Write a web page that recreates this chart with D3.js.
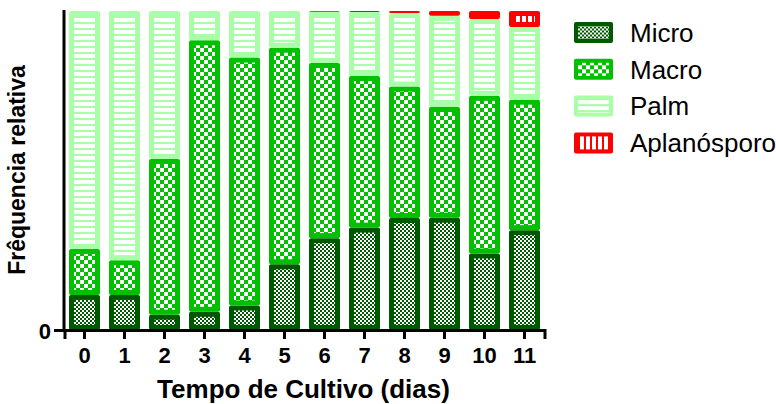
<!DOCTYPE html>
<html>
<head>
<meta charset="utf-8">
<script src="https://cdn.jsdelivr.net/npm/d3@7"></script>
<style>
  body { margin: 0; background: #fff; }
  text { font-family: Arial, "Liberation Sans", sans-serif; }
</style>
</head>
<body>
<div id="chart-area"></div>
<script>
// data (fraction of cells per day)
var days   = ["0", "1", "2", "3", "4", "5", "6", "7", "8", "9", "10", "11"];
var micro  = [0.110, 0.110, 0.048, 0.057, 0.077, 0.206, 0.288, 0.321, 0.351, 0.352, 0.240, 0.313];
var macro  = [0.144, 0.109, 0.488, 0.851, 0.777, 0.679, 0.549, 0.475, 0.412, 0.347, 0.494, 0.409];
var palm   = [0.746, 0.781, 0.464, 0.092, 0.146, 0.115, 0.161, 0.201, 0.231, 0.286, 0.241, 0.228];
var aplano = [0.000, 0.000, 0.000, 0.000, 0.000, 0.000, 0.002, 0.003, 0.006, 0.015, 0.025, 0.050];

var seriesNames = ["Micro", "Macro", "Palm", "Aplanósporo"];
var colors = { "Micro": "#005800", "Macro": "#00c000", "Palm": "#a8ffa8", "Aplanósporo": "#ff0000" };
var patIds = { "Micro": "pat-micro", "Macro": "pat-macro", "Palm": "pat-palm", "Aplanósporo": "pat-aplano" };

var W = 776, H = 404;

var svg = d3.select("#chart-area").append("svg")
  .attr("width", W)
  .attr("height", H);

// fill patterns
var defs = svg.append("defs");

var p = defs.append("pattern").attr("id", "pat-micro")
  .attr("patternUnits", "userSpaceOnUse").attr("width", 4).attr("height", 4);
p.append("rect").attr("width", 4).attr("height", 4).attr("fill", colors["Micro"]);
p.append("rect").attr("width", 2).attr("height", 2).attr("fill", "#fff");
p.append("rect").attr("x", 2).attr("y", 2).attr("width", 2).attr("height", 2).attr("fill", "#fff");

p = defs.append("pattern").attr("id", "pat-macro")
  .attr("patternUnits", "userSpaceOnUse").attr("width", 8).attr("height", 8);
p.append("rect").attr("width", 8).attr("height", 8).attr("fill", colors["Macro"]);
p.append("rect").attr("width", 4).attr("height", 4).attr("fill", "#fff");
p.append("rect").attr("x", 4).attr("y", 4).attr("width", 4).attr("height", 4).attr("fill", "#fff");

p = defs.append("pattern").attr("id", "pat-palm")
  .attr("patternUnits", "userSpaceOnUse").attr("width", 6).attr("height", 6);
p.append("rect").attr("width", 6).attr("height", 6).attr("fill", "#fff");
p.append("rect").attr("y", 4).attr("width", 6).attr("height", 2).attr("fill", colors["Palm"]);

p = defs.append("pattern").attr("id", "pat-aplano")
  .attr("patternUnits", "userSpaceOnUse").attr("width", 6).attr("height", 6);
p.append("rect").attr("width", 6).attr("height", 6).attr("fill", "#fff");
p.append("rect").attr("x", 4).attr("width", 2).attr("height", 6).attr("fill", colors["Aplanósporo"]);

// table for the stack
var table = days.map(function(d, i) {
  return { day: d, "Micro": micro[i], "Macro": macro[i], "Palm": palm[i], "Aplanósporo": aplano[i] };
});

var stacked = d3.stack().keys(seriesNames)(table);

// scales
var x = d3.scaleBand()
  .domain(days)
  .range([64.5, 544.5])
  .paddingInner(0.225)
  .paddingOuter(0.1125);

var y = d3.scaleLinear()
  .domain([0, 1])
  .range([330, 11]);

var bw = 5; // border width of each segment

// bars
var layers = svg.selectAll("g.layer")
  .data(stacked)
  .enter()
  .append("g")
  .attr("class", "layer");

layers.each(function(s) {
  var g = d3.select(this);
  var key = s.key;
  s.forEach(function(d) {
    var top = y(d[1]), bot = y(d[0]);
    var h = bot - top;
    if (h <= 0.2) return;
    g.append("rect")
      .attr("x", x(d.data.day))
      .attr("y", top)
      .attr("width", x.bandwidth())
      .attr("height", h)
      .attr("rx", 2)
      .attr("fill", colors[key]);
    if (h > 2 * bw) {
      g.append("rect")
        .attr("x", x(d.data.day) + bw)
        .attr("y", top + bw)
        .attr("width", x.bandwidth() - 2 * bw)
        .attr("height", h - 2 * bw)
        .attr("fill", "url(#" + patIds[key] + ")");
    }
  });
});

// X Axis
var xAxisCall = d3.axisBottom(x).tickSizeOuter(0).tickSize(9).tickPadding(8);
var xAxis = svg.append("g")
  .attr("class", "x axis")
  .attr("transform", "translate(0,330)")
  .call(xAxisCall);
xAxis.select(".domain").attr("stroke-width", 3).attr("stroke", "#000");
xAxis.selectAll(".tick line").attr("stroke-width", 3).attr("stroke", "#000");
xAxis.selectAll("text")
  .attr("font-size", "22px")
  .attr("font-weight", "bold")
  .attr("fill", "#000");

// Y Axis
var yAxisCall = d3.axisLeft(y)
  .tickValues([0])
  .tickFormat(d3.format("d"))
  .tickSizeOuter(0)
  .tickSize(10)
  .tickPadding(3);
var yAxis = svg.append("g")
  .attr("class", "y axis")
  .attr("transform", "translate(64,0)")
  .call(yAxisCall);
yAxis.select(".domain").attr("stroke-width", 3).attr("stroke", "#000")
  .attr("d", "M0,331.5V10");
yAxis.selectAll(".tick line").attr("stroke-width", 3).attr("stroke", "#000");
yAxis.selectAll("text")
  .attr("font-size", "22px")
  .attr("font-weight", "bold")
  .attr("fill", "#000")
  .attr("dy", "0.4em");

// X Label
svg.append("text")
  .attr("x", 303.5)
  .attr("y", 398)
  .attr("font-size", "26px")
  .attr("font-weight", "bold")
  .attr("text-anchor", "middle")
  .text("Tempo de Cultivo (dias)");

// Y Label
svg.append("text")
  .attr("transform", "translate(25,170) rotate(-90)")
  .attr("font-size", "23px")
  .attr("font-weight", "bold")
  .attr("text-anchor", "middle")
  .text("Frêquencia relativa");

// Legend
var legend = svg.selectAll("g.legend")
  .data(seriesNames)
  .enter()
  .append("g")
  .attr("class", "legend")
  .attr("transform", function(d, i) {
    return "translate(574," + (32.5 + i * 36.8) + ")";
  });

legend.append("rect")
  .attr("x", 0).attr("y", -10.5)
  .attr("width", 39).attr("height", 21)
  .attr("rx", 2)
  .attr("fill", function(d) { return colors[d]; });
legend.append("rect")
  .attr("x", 4).attr("y", -6.5)
  .attr("width", 31).attr("height", 13)
  .attr("fill", function(d) { return "url(#" + patIds[d] + ")"; });
legend.append("text")
  .attr("x", 56)
  .attr("y", 0)
  .attr("dy", "0.36em")
  .attr("font-size", "26px")
  .attr("fill", "#000")
  .text(function(d) { return d; });
</script>
</body>
</html>
